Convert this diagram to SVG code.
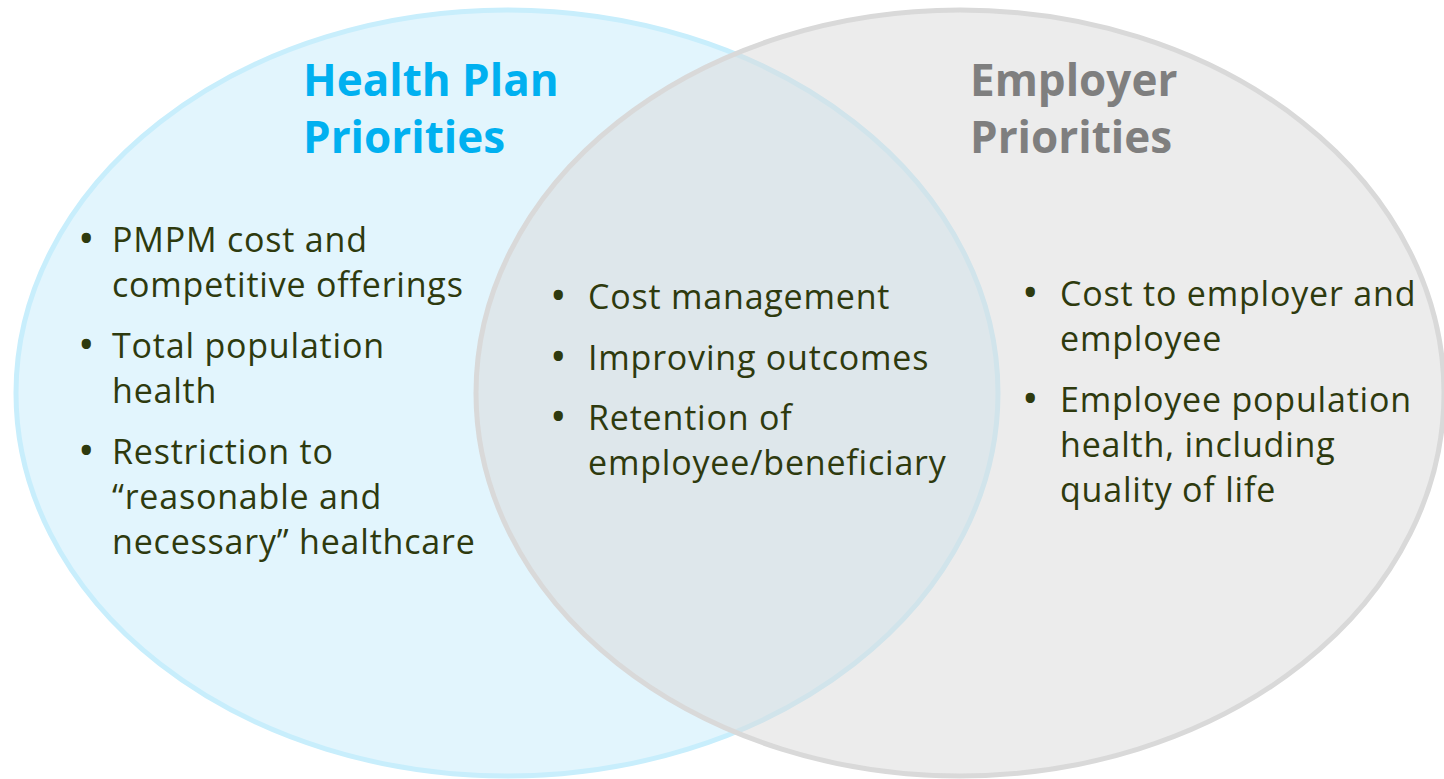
<svg xmlns="http://www.w3.org/2000/svg" width="1444" height="779" viewBox="0 0 1444 779">
<style>
.t{font-family:"Open Sans","Liberation Sans",sans-serif;font-size:34px;letter-spacing:0.8px;fill:#2e3a0e}
.b{font-family:"Open Sans","Liberation Sans",sans-serif;font-size:44px;fill:#2e3a0e}
.h{font-family:"Open Sans","Liberation Sans",sans-serif;font-size:44px;font-weight:bold}
</style>
<rect width="1444" height="779" fill="#ffffff"/>
<g id="health-plan">
<ellipse cx="507" cy="393" rx="491" ry="383" fill="#e2f5fd" stroke="#c8eefc" stroke-width="5"/>
</g>
<g id="employer">
<ellipse cx="960" cy="393" rx="484" ry="383" fill="#d9d9d9" fill-opacity="0.5" stroke="#d9d9d9" stroke-width="5"/>
</g>
<g id="labels">
<text class="h" fill="#00b0f0"><tspan x="303" y="96">Health Plan</tspan><tspan x="303" y="153">Priorities</tspan></text>
<text class="h" fill="#7f7f7f"><tspan x="970" y="96">Employer</tspan><tspan x="970" y="153">Priorities</tspan></text>
</g>
<g id="left-items">
<text class="b" x="78" y="254">•</text>
<text class="t"><tspan x="112" y="252">PMPM cost and</tspan><tspan x="112" y="297">competitive offerings</tspan></text>
<text class="b" x="78" y="360">•</text>
<text class="t"><tspan x="112" y="358">Total population</tspan><tspan x="112" y="403">health</tspan></text>
<text class="b" x="78" y="466">•</text>
<text class="t"><tspan x="112" y="464">Restriction to</tspan><tspan x="112" y="509">“reasonable and</tspan><tspan x="112" y="554">necessary” healthcare</tspan></text>
</g>
<g id="middle-items">
<text class="b" x="550" y="311">•</text>
<text class="t" x="588" y="309">Cost management</text>
<text class="b" x="550" y="372">•</text>
<text class="t" x="588" y="370">Improving outcomes</text>
<text class="b" x="550" y="432">•</text>
<text class="t"><tspan x="588" y="430">Retention of</tspan><tspan x="588" y="475">employee/beneficiary</tspan></text>
</g>
<g id="right-items">
<text class="b" x="1022" y="308">•</text>
<text class="t"><tspan x="1060" y="306">Cost to employer and</tspan><tspan x="1060" y="351">employee</tspan></text>
<text class="b" x="1022" y="414">•</text>
<text class="t"><tspan x="1060" y="412">Employee population</tspan><tspan x="1060" y="457">health, including</tspan><tspan x="1060" y="502">quality of life</tspan></text>
</g>
</svg>
